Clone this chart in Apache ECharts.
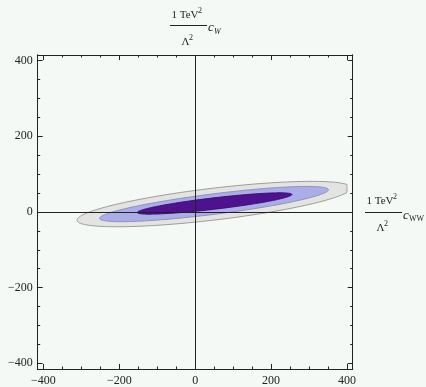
<!DOCTYPE html>
<html>
<head>
<meta charset="utf-8">
<script src="https://cdn.jsdelivr.net/npm/echarts@6/dist/echarts.min.js"></script>
<style>
  html, body { margin: 0; padding: 0; background: #f4f9f5; }
  #chart { width: 426px; height: 387px; }
</style>
</head>
<body>
<div id="chart"></div>
<script>
// Confidence regions in the (c_WW, c_W) plane, each an ellipse:
// centre, semi-axes (in coefficient units) and tilt of the major axis.
const regionNames = ['outer', 'middle', 'inner'];
const centerX = [50, 49.5, 51];
const centerY = [21, 21, 22.5];
const semiMajor = [364, 304, 205];
const semiMinor = [42, 27, 15];
const tiltDeg = [6.8, 7.2, 6.7];
// Scan domain of the coefficients (regions are cut at its edge)
const domainMin = [-400];
const domainMax = [400];

const fillColors = ['#e3e4e1', '#a9aeea', '#4f128f'];
const edgeColors = ['#9b9b9b', '#8f92b0', '#3e0b72'];

// Axis ticks
const tickLabels = [-400, -200, 0, 200, 400];
const minorTicks = [-350, -300, -250, -150, -100, -50, 50, 100, 150, 250, 300, 350];
const axisRange = [-415, 415];

const serif = 'Liberation Serif, Times New Roman, serif';
const ink = '#222';

function fmt(v) { return String(v).replace('-', '\u2212'); }

function frameAxis(dim, position, values, len, withLabels) {
  return {
    type: 'value',
    position: position,
    min: axisRange[0],
    max: axisRange[1],
    splitLine: { show: false },
    axisLine: { show: true, onZero: false, lineStyle: { color: ink, width: 1 } },
    axisTick: { show: true, inside: true, length: len, customValues: values,
                lineStyle: { color: ink, width: 1 } },
    axisLabel: { show: withLabels, customValues: values, formatter: fmt,
                 fontFamily: serif, fontSize: 12, color: ink,
                 margin: dim === 'x' ? 6 : 5 }
  };
}

const xAxes = [
  frameAxis('x', 'bottom', tickLabels, 5, true),
  frameAxis('x', 'bottom', minorTicks, 2.5, false),
  frameAxis('x', 'top', tickLabels, 5, false),
  frameAxis('x', 'top', minorTicks, 2.5, false)
];
const yAxes = [
  frameAxis('y', 'left', tickLabels, 5, true),
  frameAxis('y', 'left', minorTicks, 2.5, false),
  frameAxis('y', 'right', tickLabels, 5, false),
  frameAxis('y', 'right', minorTicks, 2.5, false)
];

function ellipseItem(params, api) {
  const i = api.value(0);
  const cx = centerX[i], cy = centerY[i];
  const a = semiMajor[i], b = semiMinor[i];
  const th = tiltDeg[i] * Math.PI / 180;
  const pts = [];
  const n = 240;
  for (let k = 0; k < n; k++) {
    const t = 2 * Math.PI * k / n;
    let x = cx + a * Math.cos(t) * Math.cos(th) - b * Math.sin(t) * Math.sin(th);
    const y = cy + a * Math.cos(t) * Math.sin(th) + b * Math.sin(t) * Math.cos(th);
    x = Math.max(domainMin[0], Math.min(domainMax[0], x));
    pts.push(api.coord([x, y]));
  }
  return {
    type: 'polygon',
    shape: { points: pts },
    style: { fill: fillColors[i], stroke: edgeColors[i], lineWidth: 1 }
  };
}

// Small helper for text pieces of the axis labels
function txt(x, y, text, font, align) {
  return { type: 'text', x: x, y: y,
           style: { text: text, font: font, fill: ink,
                    textAlign: align || 'left', textVerticalAlign: 'middle' } };
}

const chart = echarts.init(document.getElementById('chart'), null, { renderer: 'canvas' });

const option = {
  backgroundColor: '#f4f9f5',
  animation: false,
  grid: { left: 37.7, right: 73.3, top: 55, bottom: 16.6, containLabel: false },
  xAxis: xAxes,
  yAxis: yAxes,
  series: [
    {
      type: 'custom',
      name: 'regions',
      xAxisIndex: 0,
      yAxisIndex: 0,
      clip: true,
      data: regionNames.map((_, i) => [i]),
      renderItem: ellipseItem,
      markLine: {
        silent: true,
        symbol: 'none',
        label: { show: false },
        lineStyle: { color: ink, width: 1, type: 'solid' },
        data: [{ xAxis: 0 }, { yAxis: 0 }]
      }
    }
  ],
  graphic: [
    // vertical axis label: (1 TeV^2 / Lambda^2) c_W
    txt(171.5, 15, '1 TeV', '11px ' + serif),
    txt(198, 10.5, '2', '8px ' + serif),
    { type: 'line', shape: { x1: 170, y1: 25.5, x2: 207, y2: 25.5 }, style: { stroke: ink, lineWidth: 1 } },
    txt(181.5, 42, '\u039b', '11px ' + serif),
    txt(189, 37.5, '2', '8px ' + serif),
    txt(208, 28, 'c', 'italic 13px ' + serif),
    txt(214, 31.5, 'W', 'italic 8px ' + serif),
    // horizontal axis label: (1 TeV^2 / Lambda^2) c_WW
    txt(366.5, 201, '1 TeV', '11px ' + serif),
    txt(393, 196.5, '2', '8px ' + serif),
    { type: 'line', shape: { x1: 365, y1: 212.5, x2: 402, y2: 212.5 }, style: { stroke: ink, lineWidth: 1 } },
    txt(376.5, 228, '\u039b', '11px ' + serif),
    txt(384, 223.5, '2', '8px ' + serif),
    txt(403, 215.5, 'c', 'italic 13px ' + serif),
    txt(409, 219, 'WW', '8px ' + serif)
  ]
};

chart.setOption(option);
</script>
</body>
</html>
